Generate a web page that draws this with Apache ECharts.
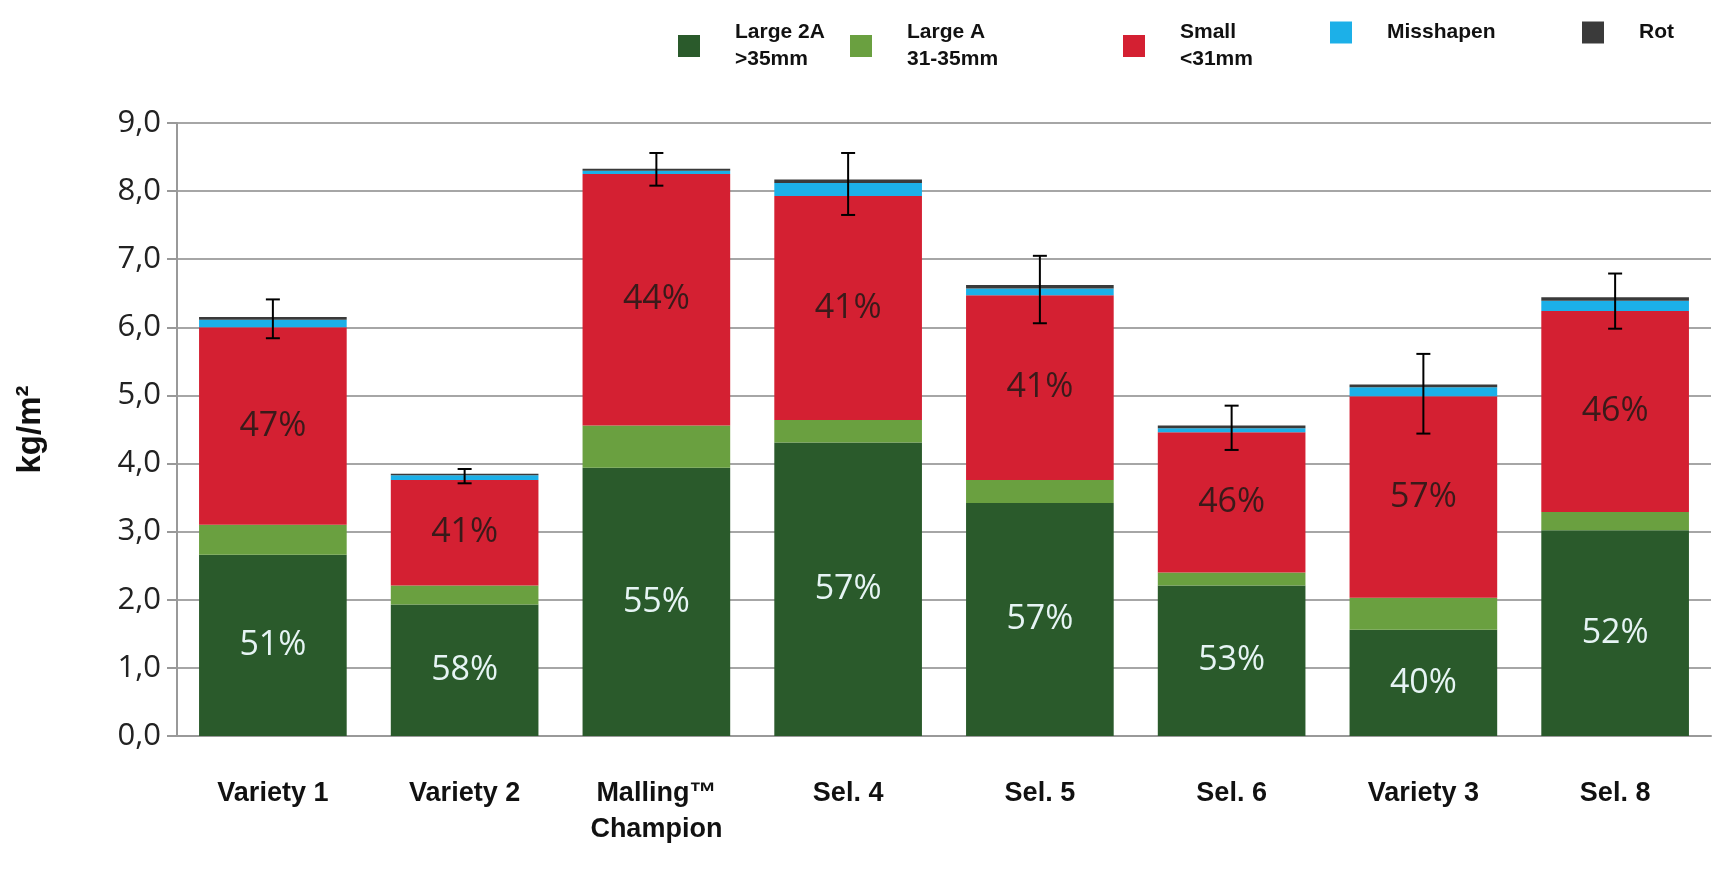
<!DOCTYPE html>
<html>
<head>
<meta charset="utf-8">
<script src="https://cdn.jsdelivr.net/npm/echarts@6/dist/echarts.min.js"></script>
<style>html,body{margin:0;background:#fff}#chart{width:1733px;height:870px}</style>
</head>
<body>
<div id="chart"></div>
<script>
// categories and segment values (kg/m2)
var categories = ['Variety 1', 'Variety 2', 'Malling™\nChampion', 'Sel. 4', 'Sel. 5', 'Sel. 6', 'Variety 3', 'Sel. 8'];
var large2A = [2.66, 1.93, 3.94, 4.31, 3.42, 2.21, 1.56, 3.02];
var largeA = [0.44, 0.28, 0.62, 0.33, 0.34, 0.19, 0.47, 0.27];
var small = [2.90, 1.55, 3.69, 3.29, 2.71, 2.06, 2.96, 2.95];
var misshapen = [0.11, 0.07, 0.05, 0.19, 0.10, 0.06, 0.13, 0.15];
var rot = [0.04, 0.02, 0.03, 0.05, 0.05, 0.04, 0.04, 0.05];
var pct2A = ['51%', '58%', '55%', '57%', '57%', '53%', '40%', '52%'];
var pctSmall = ['47%', '41%', '44%', '41%', '41%', '46%', '57%', '46%'];
var errHigh = [6.41, 3.92, 8.56, 8.56, 7.05, 4.85, 5.61, 6.79];
var errLow = [5.84, 3.71, 8.08, 7.65, 6.06, 4.20, 4.44, 5.98];

var chart = echarts.init(document.getElementById('chart'));

var legendNames = ['Large 2A\n>35mm', 'Large A\n31-35mm', 'Small\n<31mm', 'Misshapen', 'Rot'];
var legendLeft = [678, 850, 1123, 1330, 1582];
var colors = ['#2a5a2b', '#6aa040', '#d42032', '#1cb0e8', '#3a3a3a'];

function pctLabel(arr, color) {
    return {
        show: true,
        position: 'inside',
        color: color,
        fontSize: 34,
        fontFamily: 'Open Sans',
        formatter: function (p) { return arr[p.dataIndex]; }
    };
}

var series = [
    { name: legendNames[0], type: 'bar', stack: 's', data: large2A, label: pctLabel(pct2A, '#e6f4f4'), barCategoryGap: '23%' },
    { name: legendNames[1], type: 'bar', stack: 's', data: largeA },
    { name: legendNames[2], type: 'bar', stack: 's', data: small, label: pctLabel(pctSmall, '#3a1a1a') },
    { name: legendNames[3], type: 'bar', stack: 's', data: misshapen },
    { name: legendNames[4], type: 'bar', stack: 's', data: rot },
    {
        type: 'custom',
        z: 10,
        data: errHigh.map(function (h, i) { return [i, errLow[i], h]; }),
        renderItem: function (params, api) {
            var lo = api.coord([api.value(0), api.value(1)]);
            var hi = api.coord([api.value(0), api.value(2)]);
            var w = 7;
            var st = { stroke: '#000', lineWidth: 2 };
            return {
                type: 'group',
                children: [
                    { type: 'line', shape: { x1: hi[0], y1: hi[1], x2: lo[0], y2: lo[1] }, style: st },
                    { type: 'line', shape: { x1: hi[0] - w, y1: hi[1], x2: hi[0] + w, y2: hi[1] }, style: st },
                    { type: 'line', shape: { x1: lo[0] - w, y1: lo[1], x2: lo[0] + w, y2: lo[1] }, style: st }
                ]
            };
        }
    }
];

chart.setOption({
    color: colors,
    animation: false,
    legend: legendNames.map(function (n, i) {
        return {
            data: [n], left: legendLeft[i], top: 6, padding: 0,
            icon: 'rect', itemWidth: 22, itemHeight: 22, itemGap: 0,
            textStyle: { fontSize: 21, fontWeight: 'bold', fontFamily: 'Liberation Sans', color: '#111', lineHeight: 27, padding: [26, 0, 0, 30] }
        };
    }),
    grid: { left: 177, right: 22, top: 123, bottom: 134 },
    xAxis: {
        type: 'category',
        data: categories,
        axisLine: { lineStyle: { color: '#999', width: 2 } },
        axisTick: { length: 18, lineStyle: { color: '#999', width: 2 } },
        axisLabel: { fontSize: 27, fontWeight: 'bold', fontFamily: 'Liberation Sans', color: '#111', margin: 40, lineHeight: 36, verticalAlign: 'top' }
    },
    yAxis: {
        type: 'value', min: 0, max: 9, interval: 1,
        name: 'kg/m²', nameLocation: 'middle', nameGap: 130, nameRotate: 90,
        nameTextStyle: { fontSize: 33, fontWeight: 'bold', color: '#111', fontFamily: 'Liberation Sans' },
        axisLine: { show: true, lineStyle: { color: '#999', width: 2 } },
        axisTick: { show: true, length: 10, lineStyle: { color: '#999', width: 2 } },
        axisLabel: { fontSize: 31, color: '#222', fontFamily: 'Open Sans', margin: 16, formatter: function (v) { return v.toFixed(1).replace('.', ','); } },
        splitLine: { lineStyle: { color: '#a6a6a6', width: 2 } }
    },
    series: series
});
</script>
</body>
</html>
